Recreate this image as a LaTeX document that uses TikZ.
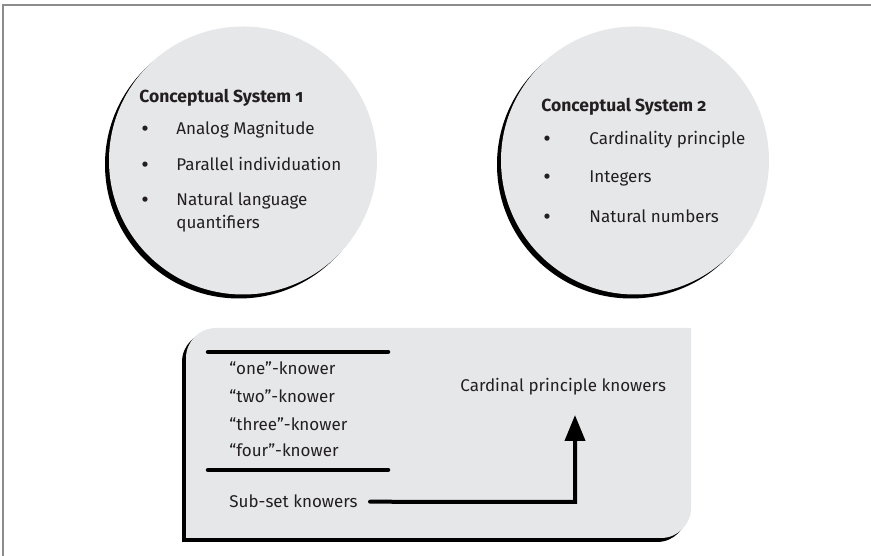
\documentclass[tikz,border=0pt]{standalone}
\usepackage{fontspec}
\setmainfont{Fira Sans}[Numbers=OldStyle]
\usetikzlibrary{positioning,shadows,arrows.meta}

\definecolor{paneGrey}{HTML}{E6E7E8}
\definecolor{frameGrey}{HTML}{8C8C8C}
\definecolor{inkGrey}{HTML}{231F20}

\tikzset{every picture/.style={line width=0.8pt}}
\tikzset{
  system/.style={circle, fill=paneGrey, minimum size=268pt, inner sep=0pt,
    drop shadow={shadow xshift=-4pt, shadow yshift=-4pt, fill=black, opacity=1}},
  title/.style={anchor=base west, inner sep=0pt, font=\fontsize{17.5}{20}\selectfont\bfseries},
  entry/.style={anchor=base west, inner sep=0pt},
  dot/.style={anchor=base, inner sep=0pt, yshift=-1.5pt, font=\fontsize{23}{23}\selectfont},
  bar/.style={line width=4.5pt, line cap=round},
  link/.style={line width=4pt, line cap=round, -{Triangle[length=26pt, width=20pt]}}
}

\begin{document}
\begin{tikzpicture}[x=1pt, y=1pt, font=\fontsize{17}{20}\selectfont, text=inkGrey]
\useasboundingbox (0,0) rectangle (871,556);

    % Outer frame (only top and left edges)
    \draw[frameGrey, line width=1.5pt] (3,0) -- (3,551) -- (871,551);

    % The two conceptual systems
\node[system] (cs1) at (243,395.5) {};
\node[system] (cs2) at (635,395.5) {};

\node[title] (t1) at (139,453) {Conceptual System 1};
\node[dot] (b11) at (145,421) {•};
\node[entry] (e11) at (176,421) {Analog Magnitude};
\node[dot] (b12) at (145,385) {•};
\node[entry] (e12) at (176,385) {Parallel individuation};
\node[dot] (b13) at (145,350) {•};
\node[entry] (e13) at (176,350) {Natural language};
\node[entry] (e13b) at (176,327) {quantifiers};

\node[title] (t2) at (541,444) {Conceptual System 2};
\node[dot] (b21) at (547,411) {•};
\node[entry] (e21) at (589,411) {Cardinality principle};
\node[dot] (b22) at (547,373) {•};
\node[entry] (e22) at (589,373) {Integers};
\node[dot] (b23) at (547,333) {•};
\node[entry] (e23) at (589,333) {Natural numbers};

    % Knower-level panel, rounded at top left and bottom right
    \foreach \s/\c in {-4/black, 0/paneGrey}
      \fill[\c, shift={(\s,\s)}] (186,18) -- (186,198)
        arc[start angle=180, end angle=90, radius=30] -- (691,228) -- (691,48)
        arc[start angle=0, end angle=-90, radius=30] -- cycle;

    \draw[bar] (208,204) coordinate (bar1) -- (388,204);
    \draw[bar] (208,86) coordinate (bar2) -- (388,86);

\node[entry] (k1) at (229,181) {“one”-knower};
\node[entry] (k2) at (229,153) {“two”-knower};
\node[entry] (k3) at (229,125) {“three”-knower};
\node[entry] (k4) at (229,99) {“four”-knower};
\node[entry] (subset) at (229,48) {Sub-set knowers};
\node[entry] (cardinal) at (460,164) {Cardinal principle knowers};

    % Transition arrow
    \coordinate (turn) at (575,54);
    \coordinate (tip) at (575,141);
    \draw[link] ([xshift=12pt]subset.east) -- (turn) -- (tip);
\end{tikzpicture}
\end{document}
